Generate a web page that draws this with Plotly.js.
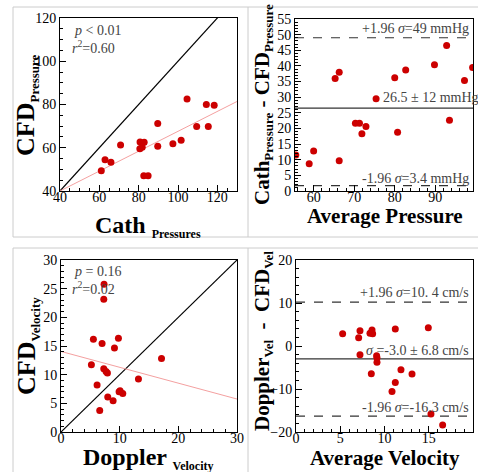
<!DOCTYPE html>
<html><head><meta charset="utf-8">
<script src="https://cdn.plot.ly/plotly-3.0.1.min.js"></script>
<style>html,body{margin:0;padding:0;background:#fff}#c{width:478px;height:472px}</style>
</head><body><div id="c"></div>
<script>
// Panel 1: Cath vs CFD pressure
const cathP = [61.0,62.9,65.9,70.8,80.6,80.7,81.8,82.8,82.6,84.8,89.7,89.7,97.4,101.6,104.6,109.5,114.4,115.4,118.4];
const cfdP  = [49.4,54.4,53.3,61.3,59.5,62.7,60.2,62.5,47.1,47.1,71.2,60.7,61.9,63.5,82.5,69.8,80.0,69.8,79.7];
const fitP_x = [40,130];
const fitP_y = [40,81.4];
// Panel 2: Bland-Altman pressure
const avgP  = [55.6,58.9,60.0,65.3,66.3,66.3,70.3,71.3,71.9,72.9,75.4,80.0,80.7,82.7,89.8,92.8,93.5,97.2,99.2];
const diffP = [11.5,8.7,12.8,36.0,38.0,9.7,21.7,21.7,18.3,20.6,29.5,36.2,18.8,38.7,40.4,46.5,22.6,35.3,39.5];
const baP = {upper:49, mean:26.5, lower:1.7};
// Panel 3: Doppler vs CFD velocity
const dopV = [7.34,7.29,5.52,9.79,7.0,9.11,17.13,5.18,7.29,7.68,7.91,13.2,6.15,9.9,10.07,10.53,7.97,8.88,6.6];
const cfdV = [25.76,23.15,16.19,16.37,15.44,14.63,12.83,11.72,11.03,10.57,10.27,9.23,8.18,7.02,7.19,6.73,6.09,5.45,3.77];
const fitV_x = [0,30];
const fitV_y = [14.05,5.75];
// Panel 4: Bland-Altman velocity
const avgV  = [5.27,7.08,7.23,7.23,8.36,8.59,8.66,8.51,9.11,9.15,9.15,10.85,11.22,11.22,11.86,13.11,14.95,15.25,16.57];
const diffV = [2.82,1.9,3.52,-2.05,2.98,3.75,2.82,-6.46,-2.28,-2.75,-3.75,-10.56,3.98,-8.47,-5.53,-6.54,4.22,-15.8,-18.4];
const baV = {upper:10.2, mean:-3.0, lower:-16.3};

const W=478,H=472;
const px = v=>v/W, py = v=>1-v/H;
const red='#cc0000';
const mk = {color:red,size:7};
const FAM = '"Times New Roman", "Liberation Serif", serif';
const traces = [
 {x:[40,130],y:[40,130],mode:'lines',line:{color:'#000',width:1.2},xaxis:'x',yaxis:'y'},
 {x:fitP_x,y:fitP_y,mode:'lines',line:{color:'#f4a0a0',width:1},xaxis:'x',yaxis:'y'},
 {x:cathP,y:cfdP,mode:'markers',marker:mk,xaxis:'x',yaxis:'y'},
 {x:[55.4,99.3],y:[baP.upper,baP.upper],mode:'lines',line:{color:'#333',width:1.2,dash:'dash'},xaxis:'x2',yaxis:'y2'},
 {x:[55.4,99.3],y:[baP.mean,baP.mean],mode:'lines',line:{color:'#333',width:1.2},xaxis:'x2',yaxis:'y2'},
 {x:[55.4,99.3],y:[baP.lower,baP.lower],mode:'lines',line:{color:'#333',width:1.2,dash:'dash'},xaxis:'x2',yaxis:'y2'},
 {x:avgP,y:diffP,mode:'markers',marker:mk,xaxis:'x2',yaxis:'y2'},
 {x:[0,30],y:[0,30],mode:'lines',line:{color:'#000',width:1.2},xaxis:'x3',yaxis:'y3'},
 {x:fitV_x,y:fitV_y,mode:'lines',line:{color:'#f4a0a0',width:1},xaxis:'x3',yaxis:'y3'},
 {x:dopV,y:cfdV,mode:'markers',marker:mk,xaxis:'x3',yaxis:'y3'},
 {x:[0,20],y:[baV.upper,baV.upper],mode:'lines',line:{color:'#333',width:1.2,dash:'dash'},xaxis:'x4',yaxis:'y4'},
 {x:[0,20],y:[baV.mean,baV.mean],mode:'lines',line:{color:'#333',width:1.2},xaxis:'x4',yaxis:'y4'},
 {x:[0,20],y:[baV.lower,baV.lower],mode:'lines',line:{color:'#333',width:1.2,dash:'dash'},xaxis:'x4',yaxis:'y4'},
 {x:avgV,y:diffV,mode:'markers',marker:mk,xaxis:'x4',yaxis:'y4'}
];
const tf = {family:FAM,size:14,color:'#000'};
function ax(domain,range,dtick,minor,anchor,isX){
  const a = {domain:domain,range:range,dtick:dtick,tick0:0,anchor:anchor,showgrid:false,zeroline:false,
    showline:true,linecolor:'#000',linewidth:1,mirror:true,ticks:'inside',ticklen:6,tickcolor:'#000',
    minor:{dtick:minor,ticks:'inside',ticklen:3,tickcolor:'#000'},tickfont:tf};
  if(isX) a.ticklabelstandoff = -7;
  return a;
}
const layout = {
 width:W,height:H,margin:{l:0,r:0,t:0,b:0},showlegend:false,paper_bgcolor:'#fff',plot_bgcolor:'#fff',
 font:{family:FAM,size:14,color:'#000'},
 xaxis: ax([px(60),px(237)],[40,130],20,5,'y',true),
 yaxis: ax([py(191),py(18)],[40,120],20,5,'x'),
 xaxis2: ax([px(295),px(473)],[55.4,99.3],10,2,'y2',true),
 yaxis2: ax([py(191),py(19)],[0,55],5,1,'x2'),
 xaxis3: ax([px(61),px(237)],[0,30],10,2,'y3',true),
 yaxis3: ax([py(432),py(260)],[0,30],5,1,'x3'),
 xaxis4: ax([px(296),px(473)],[0,20],5,1,'y4',true),
 yaxis4: ax([py(432),py(260)],[-20,20],10,2,'x4'),
 shapes:[
  {type:'line',xref:'paper',yref:'paper',x0:px(13),x1:px(13),y0:py(7),y1:py(237),line:{color:'#ccc',width:1}},
  {type:'line',xref:'paper',yref:'paper',x0:px(13),x1:px(478),y0:py(7),y1:py(7),line:{color:'#ccc',width:1}},
  {type:'line',xref:'paper',yref:'paper',x0:px(13),x1:px(478),y0:py(237),y1:py(237),line:{color:'#ccc',width:1}},
  {type:'line',xref:'paper',yref:'paper',x0:px(248),x1:px(248),y0:py(7),y1:py(237),line:{color:'#ccc',width:1}},
  {type:'line',xref:'paper',yref:'paper',x0:px(13),x1:px(478),y0:py(248),y1:py(248),line:{color:'#ccc',width:1}},
  {type:'line',xref:'paper',yref:'paper',x0:px(13),x1:px(13),y0:py(248),y1:0,line:{color:'#ccc',width:1}},
  {type:'line',xref:'paper',yref:'paper',x0:px(248),x1:px(248),y0:py(248),y1:0,line:{color:'#ccc',width:1}}
 ],
 annotations:[]
};
const af = {family:FAM,size:14,color:'#444'};
function note(t,x,y,anchor){layout.annotations.push({text:t,xref:'paper',yref:'paper',x:px(x),y:py(y),xanchor:anchor||'left',yanchor:'middle',showarrow:false,font:af});}
function title(t,x,y,size,angle){layout.annotations.push({text:t,xref:'paper',yref:'paper',x:px(x),y:py(y),xanchor:'center',yanchor:'middle',textangle:angle||0,showarrow:false,font:{family:FAM,size:size,color:'#000'}});}
note('<i>p</i> &lt; 0.01',72,30);
note('<i>r</i><sup>2</sup>=0.60',70,47);
note('+1.96 <i>σ</i>=49 mmHg',471,29,'right');
note('26.5 ± 12 mmHg',381,97);
note('-1.96 <i>σ</i>=3.4 mmHg',471,178,'right');
note('<i>p</i> = 0.16',72,271);
note('<i>r</i><sup>2</sup>=0.02',70,288);
note('+1.96 <i>σ</i>=10. 4 cm/s',471,292,'right');
note('<i>σ</i> =-3.0 ± 6.8 cm/s',471,350,'right');
note('-1.96 <i>σ</i>=-16.3 cm/s',471,407,'right');
// axis titles
title('<b>CFD<sub><span style="font-size:13px">Pressure</span></sub></b>',27,105,26,-90);
title('<b>Cath <sub><span style="font-size:12px">Pressures</span></sub></b>',148,226,24);
title('<b>Cath<sub><span style="font-size:13px">Pressure</span></sub> - CFD<sub><span style="font-size:13px">Pressure</span></sub></b>',263,105,21,-90);
title('<b>Average Pressure</b>',385,216,21);
title('<b>CFD<sub><span style="font-size:13px">Velocity</span></sub></b>',27,346,26,-90);
title('<b>Doppler <sub><span style="font-size:12px">Velocity</span></sub></b>',148,458,24);
title('<b>Doppler<sub><span style="font-size:13px">Vel</span></sub>  -  CFD<sub><span style="font-size:13px">Vel</span></sub></b>',263,341,21,-90);
title('<b>Average Velocity</b>',385,458,21);
Plotly.newPlot('c',traces,layout,{staticPlot:true});
</script></body></html>
